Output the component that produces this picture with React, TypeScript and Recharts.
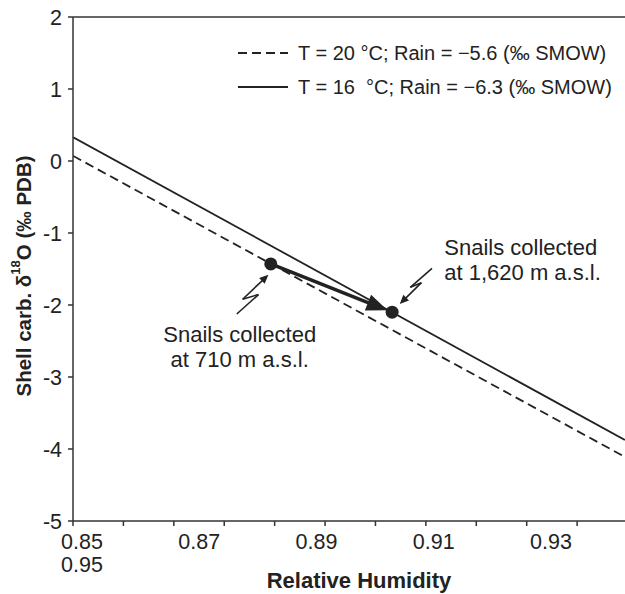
import {
  ComposedChart,
  Legend,
  Line,
  ReferenceDot,
  ReferenceLine,
  Scatter,
  XAxis,
  YAxis,
} from "recharts";

const FONT = '"Liberation Sans", Arial, Helvetica, sans-serif';
const INK = "#222";
const AXIS = "#333";

// relative humidity at both ends of the model lines
const LINE_RH = [0.8485, 0.9426];
const WARM_D18O = [0.07, -4.11]; // T = 20 °C
const COOL_D18O = [0.33, -3.875]; // T = 16 °C

const SERIES = [
  { key: "warm", name: "T = 20 °C; Rain = −5.6 (‰ SMOW)", values: WARM_D18O, dash: "9 5" },
  { key: "cool", name: "T = 16\u00a0 °C; Rain = −6.3 (‰ SMOW)", values: COOL_D18O, dash: undefined },
];

// measured snails (710 m, 1,620 m)
const SNAIL_RH = [0.8822, 0.9029];
const SNAIL_D18O = [-1.43, -2.1];
const SNAIL_TEXT = [
  ["Snails collected", "at 710 m a.s.l."],
  ["Snails collected", "at 1,620 m a.s.l."],
];
const TEXT_RH = [0.8769, 0.9118];
const TEXT_D18O = [-2.514, -1.306];
const TEXT_ANCHOR = ["middle", "start"];

// zig-zag pointers, tail -> head
const BOLT_RH = [
  [0.8764, 0.8801, 0.8774, 0.8818],
  [0.9097, 0.906, 0.9079, 0.9042],
];
const BOLT_D18O = [
  [-2.125, -1.855, -1.92, -1.58],
  [-1.49, -1.755, -1.69, -1.986],
];

const X_TICKS = [0.85, 0.87, 0.89, 0.91, 0.93];
const X_TICK_EXTRA = "0.95";
const X_MARKS = [0.85, 0.86, 0.87, 0.88, 0.89, 0.9, 0.91, 0.92, 0.93, 0.94, 0.95];
const Y_TICKS = [2, 1, 0, -1, -2, -3, -4, -5];

const lineRows = SERIES.map((s) => LINE_RH.map((rh, i) => ({ rh, d18o: s.values[i] })));
const snailRows = SNAIL_RH.map((rh, i) => ({ rh, d18o: SNAIL_D18O[i] }));
const markRows = X_MARKS.map((mark) => ({ mark, d18o: null }));

function arrowShape(head: number, half: number, gap: number, width: number) {
  return (p: any) => {
    const { x1, y1, x2, y2 } = p;
    const len = Math.hypot(x2 - x1, y2 - y1) || 1;
    const ux = (x2 - x1) / len;
    const uy = (y2 - y1) / len;
    const tx = x2 - ux * gap;
    const ty = y2 - uy * gap;
    const bx = tx - ux * head;
    const by = ty - uy * head;
    const pts = `${tx},${ty} ${bx - uy * half},${by + ux * half} ${bx + uy * half},${by - ux * half}`;
    return (
      <g>
        <line x1={x1} y1={y1} x2={bx + ux * 2} y2={by + uy * 2} stroke={INK} strokeWidth={width} />
        <polygon points={pts} fill={INK} />
      </g>
    );
  };
}

const bigArrow = arrowShape(21, 8.5, 5, 3.5);
const smallArrow = arrowShape(9, 4, 0, 1.6);

const NoLabel = () => <g />;

const RhTick = ({ x, y, payload }: any) => (
  <text x={x} y={y + 27} textAnchor="middle" fontSize={21.5} fill={INK}>
    {Number(payload.value).toFixed(2)}
    {payload.value === X_TICKS[0] && (
      <tspan x={x} dy={23}>
        {X_TICK_EXTRA}
      </tspan>
    )}
  </text>
);

const xLabel = ({ viewBox }: any) => (
  <text
    x={viewBox.x + viewBox.width / 2 + 10}
    y={viewBox.y + 66}
    textAnchor="middle"
    fontSize={22}
    fontWeight="bold"
    fill={INK}
  >
    Relative Humidity
  </text>
);

const yLabel = ({ viewBox }: any) => {
  const x = viewBox.x;
  const y = viewBox.y + viewBox.height / 2 + 7;
  return (
    <text
      x={x}
      y={y}
      transform={`rotate(-90, ${x}, ${y})`}
      textAnchor="middle"
      dominantBaseline="central"
      fontSize={20.5}
      fontWeight="bold"
      fill={INK}
    >
      Shell carb. δ
      <tspan baselineShift="super" fontSize={13}>
        18
      </tspan>
      O (‰ PDB)
    </text>
  );
};

const LegendBox = () => (
  <div style={{ fontSize: 20, color: INK, fontFamily: FONT }}>
    {SERIES.map((s) => (
      <div key={s.key} style={{ display: "flex", alignItems: "center", height: 34 }}>
        <svg width={50} height={4}>
          <line x1={0} y1={2} x2={50} y2={2} stroke={INK} strokeWidth={2} strokeDasharray={s.dash} />
        </svg>
        <span style={{ marginLeft: 10, whiteSpace: "pre" }}>{s.name}</span>
      </div>
    ))}
  </div>
);

export default function App() {
  return (
    <div style={{ position: "fixed", left: 0, top: 0, width: 625, height: 594, background: "#fff", fontFamily: FONT }}>
      <ComposedChart width={625} height={594} margin={{ top: 17, right: 0, left: 23, bottom: 0 }}>
        <XAxis
          xAxisId="marks"
          dataKey="mark"
          type="number"
          domain={[0.85, 0.9595]}
          allowDataOverflow
          ticks={X_MARKS}
          interval={0}
          tick={<NoLabel />}
          tickLine={{ stroke: AXIS, strokeWidth: 1.5 }}
          tickSize={5}
          height={1}
          stroke={AXIS}
          strokeWidth={1.5}
        />
        <XAxis
          xAxisId="rh"
          dataKey="rh"
          type="number"
          domain={[0.848465, 0.942623]}
          allowDataOverflow
          ticks={X_TICKS}
          interval={0}
          axisLine={false}
          tickLine={false}
          tickSize={0}
          tickMargin={0}
          height={72}
          tick={<RhTick />}
          label={{ content: xLabel }}
        />
        <YAxis
          dataKey="d18o"
          type="number"
          domain={[-5, 2]}
          allowDataOverflow
          ticks={Y_TICKS}
          interval={0}
          width={50}
          tickSize={5}
          tickMargin={6}
          stroke={AXIS}
          strokeWidth={1.5}
          tick={{ fill: INK, fontSize: 21.5 }}
          label={{ content: yLabel }}
        />
        <ReferenceLine xAxisId="rh" y={2} stroke={AXIS} strokeWidth={1.5} />
        {/* carries the minor tick axis, draws nothing */}
        <Line
          xAxisId="marks"
          data={markRows}
          dataKey="d18o"
          stroke="none"
          dot={false}
          activeDot={false}
          legendType="none"
          isAnimationActive={false}
        />
        {SERIES.map((s, i) => (
          <Line
            key={s.key}
            xAxisId="rh"
            data={lineRows[i]}
            dataKey="d18o"
            name={s.name}
            stroke={INK}
            strokeWidth={1.8}
            strokeDasharray={s.dash}
            dot={false}
            activeDot={false}
            isAnimationActive={false}
          />
        ))}
        <ReferenceLine
          xAxisId="rh"
          segment={[
            { x: SNAIL_RH[0], y: SNAIL_D18O[0] },
            { x: SNAIL_RH[1], y: SNAIL_D18O[1] },
          ]}
          shape={bigArrow}
        />
        {BOLT_RH.map((xs, b) =>
          xs.slice(1).map((x, k) => (
            <ReferenceLine
              key={`bolt-${b}-${k}`}
              xAxisId="rh"
              segment={[
                { x: xs[k], y: BOLT_D18O[b][k] },
                { x, y: BOLT_D18O[b][k + 1] },
              ]}
              stroke={INK}
              strokeWidth={1.6}
              shape={k === xs.length - 2 ? smallArrow : undefined}
            />
          ))
        )}
        <Scatter
          xAxisId="rh"
          data={snailRows}
          fill={INK}
          isAnimationActive={false}
          shape={(p: any) => <circle cx={p.cx} cy={p.cy} r={6.5} fill={INK} />}
        />
        {SNAIL_TEXT.map((lines, i) => (
          <ReferenceDot
            key={`txt-${i}`}
            xAxisId="rh"
            x={TEXT_RH[i]}
            y={TEXT_D18O[i]}
            r={0}
            shape={(p: any) => (
              <text x={p.cx} y={p.cy} textAnchor={TEXT_ANCHOR[i] as any} fontSize={22} fill={INK}>
                {lines.map((t, j) => (
                  <tspan key={j} x={p.cx} dy={j === 0 ? 0 : 25}>
                    {t}
                  </tspan>
                ))}
              </text>
            )}
          />
        ))}
        <Legend
          layout="vertical"
          align="center"
          verticalAlign="middle"
          content={<LegendBox />}
          wrapperStyle={{ top: 36, left: 238, width: "auto" }}
        />
      </ComposedChart>
    </div>
  );
}
